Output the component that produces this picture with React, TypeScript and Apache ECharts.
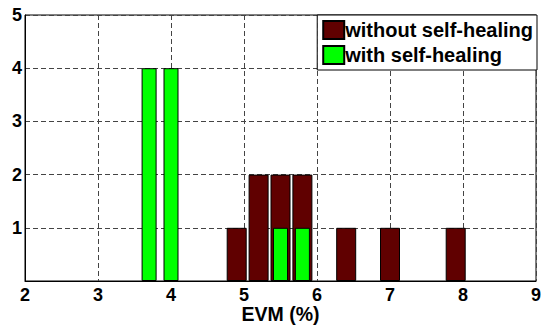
import React, { useEffect, useRef } from "react";
import * as echarts from "echarts";

const binCenters = [3.7, 4.0, 4.3, 4.6, 4.9, 5.2, 5.5, 5.8, 6.1, 6.4, 6.7, 7.0, 7.3, 7.6, 7.9];
const withoutCounts = [0, 0, 0, 0, 1, 2, 2, 2, 0, 1, 0, 1, 0, 0, 1];
const withCounts = [4, 4, 0, 0, 0, 0, 1, 1, 0, 0, 0, 0, 0, 0, 0];
const xTicks = [2, 3, 4, 5, 6, 7, 8, 9];
const yTicks = [0, 1, 2, 3, 4, 5];
const seriesNames = ["without self-healing", "with self-healing"];

const FONT = "'Liberation Sans', Arial, sans-serif";

export default function App() {
  const ref = useRef<HTMLDivElement>(null);
  useEffect(() => {
    if (!ref.current) return;
    const chart = echarts.init(ref.current, null, { renderer: "svg" });
    const toPairs = (counts: number[]) =>
      binCenters.map((c, i) => [c, counts[i]]).filter((p) => p[1] > 0);
    const xMin = xTicks[0];
    const xMax = xTicks[xTicks.length - 1];
    chart.setOption({
      animation: false,
      backgroundColor: "#fff",
      textStyle: { fontFamily: FONT },
      grid: {
        left: 25,
        right: 7,
        top: 15,
        bottom: 45,
        containLabel: false,
        outerBoundsMode: "none",
        show: true,
        borderColor: "#000",
        borderWidth: 1,
        backgroundColor: "transparent",
      },
      legend: {
        orient: "vertical",
        right: 6,
        top: 15,
        padding: [5, 4, 5, 5],
        itemWidth: 21,
        itemHeight: 18,
        itemGap: 5,
        icon: "rect",
        backgroundColor: "#fff",
        borderColor: "#000",
        borderWidth: 1,
        textStyle: {
          fontFamily: FONT,
          fontWeight: "bold",
          fontSize: 20,
          color: "#000",
          lineHeight: 18,
          padding: [0, 0, 0, -4],
        },
        data: seriesNames,
      },
      xAxis: [
        {
          type: "value",
          min: xMin,
          max: xMax,
          interval: 1,
          name: "EVM (%)",
          nameLocation: "middle",
          nameGap: 23,
          nameMoveOverlap: false,
          nameTextStyle: {
            fontFamily: FONT,
            fontWeight: "bold",
            fontSize: 19.5,
            lineHeight: 19,
            color: "#000",
          },
          axisLine: { show: true, lineStyle: { color: "#000", width: 1 } },
          axisTick: { show: false },
          axisLabel: {
            fontFamily: FONT,
            fontWeight: "bold",
            fontSize: 18,
            lineHeight: 16,
            color: "#000",
            margin: 6,
          },
          splitLine: { show: true, lineStyle: { color: "#444", type: [5, 3], width: 1 } },
        },
        {
          type: "value",
          min: xMin,
          max: xMax,
          interval: 1,
          show: false,
          splitLine: { show: false },
        },
      ],
      yAxis: {
        type: "value",
        min: yTicks[0],
        max: yTicks[yTicks.length - 1],
        interval: 1,
        axisLine: { show: true, lineStyle: { color: "#000", width: 1 } },
        axisTick: { show: false },
        axisLabel: {
          fontFamily: FONT,
          fontWeight: "bold",
          fontSize: 18,
          color: "#000",
          margin: 3,
          formatter: (v: number) => (v === 0 ? "" : String(v)),
        },
        splitLine: { show: true, lineStyle: { color: "#444", type: [5, 3], width: 1 } },
      },
      series: [
        {
          name: seriesNames[0],
          type: "bar",
          xAxisIndex: 0,
          barWidth: 20,
          itemStyle: { color: "#600000", borderColor: "#000", borderWidth: 1 },
          data: toPairs(withoutCounts),
        },
        {
          name: seriesNames[1],
          type: "bar",
          xAxisIndex: 1,
          barWidth: 15,
          itemStyle: { color: "#00ff00", borderColor: "#000", borderWidth: 1 },
          data: toPairs(withCounts),
        },
      ],
    });
    return () => chart.dispose();
  }, []);
  return (
    <div
      ref={ref}
      style={{ position: "fixed", left: 0, top: 0, width: 543, height: 326 }}
    />
  );
}
